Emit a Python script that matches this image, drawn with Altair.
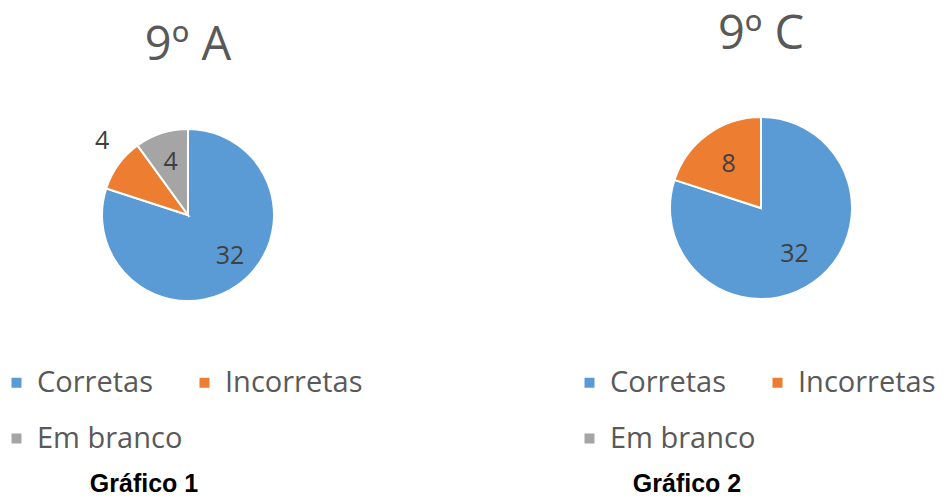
import altair as alt
import pandas as pd

categories = ["Corretas", "Incorretas", "Em branco"]
values_9a = [32, 4, 4]
values_9c = [32, 8, 0]
colors = ["#5B9BD5", "#ED7D31", "#A5A5A5"]
titles = ["9º A", "9º C"]
captions = ["Gráfico 1", "Gráfico 2"]

FONT = "Open Sans"
color_scale = alt.Scale(domain=categories, range=colors)


def make_df(vals):
    return pd.DataFrame({"cat": categories, "v": vals, "ord": list(range(len(categories)))})


def panel(vals, title, caption, cx, cy, r, label_specs, legend_x, legend_y,
          title_x, title_y, caption_x, caption_y, w):
    df = make_df(vals)
    base = alt.Chart(df).encode(
        theta=alt.Theta("v:Q", stack=True),
        order=alt.Order("ord:Q"),
    )
    pie = base.mark_arc(radius=r, stroke="white", strokeWidth=2).encode(
        x=alt.value(cx), y=alt.value(cy),
        color=alt.Color(
            "cat:N", scale=color_scale, sort=categories,
            legend=alt.Legend(
                orient="none", legendX=legend_x, legendY=legend_y, title=None,
                direction="horizontal", padding=0,
                columns=2, symbolType="square", symbolSize=100, symbolStrokeWidth=0,
                symbolOffset=-6,
                labelFontSize=29, labelFont=FONT, labelColor="#595959",
                labelOffset=6, columnPadding=13, rowPadding=26, labelLimit=300,
                values=categories,
            ),
        ),
    )
    layers = [pie]
    for cat, rad, dx, dy in label_specs:
        layers.append(
            base.transform_calculate(
                lbl=f"datum.cat == '{cat}' && datum.v > 0 ? '' + datum.v : ''"
            ).mark_text(
                radius=rad, dx=dx, dy=dy, fontSize=25, font=FONT, color="#404040",
                align="center", baseline="middle",
            ).encode(x=alt.value(cx), y=alt.value(cy), text="lbl:N")
        )
    tdf = pd.DataFrame({"t": [title]})
    layers.append(
        alt.Chart(tdf).mark_text(
            fontSize=47, font=FONT, color="#595959", align="center", baseline="alphabetic"
        ).encode(x=alt.value(title_x), y=alt.value(title_y), text="t:N")
    )
    cdf = pd.DataFrame({"t": [caption]})
    layers.append(
        alt.Chart(cdf).mark_text(
            fontSize=25, font="Liberation Sans", fontWeight="bold", color="#000000",
            align="center", baseline="alphabetic"
        ).encode(x=alt.value(caption_x), y=alt.value(caption_y), text="t:N")
    )
    return alt.layer(*layers).properties(width=w, height=486)


left = panel(
    values_9a, titles[0], captions[0], 180, 207, 86,
    [("Corretas", 58, 8, -6), ("Incorretas", 106, 0, -12), ("Em branco", 56, 0, 0)],
    0, 360, 180, 52, 136, 484, 465,
)
right = panel(
    values_9c, titles[1], captions[1], 288, 200, 91,
    [("Corretas", 57, 0, 0), ("Incorretas", 55, 0, 0)],
    108, 360, 288, 41, 214, 484, 465,
)

chart = alt.hconcat(left, right, spacing=0, bounds="flush").resolve_scale(
    color="independent", theta="independent"
).resolve_legend(color="independent").properties(
    padding=0, background="white"
).configure_view(stroke=None)

chart.save("out.html", embed_options={"renderer": "svg", "actions": False})
